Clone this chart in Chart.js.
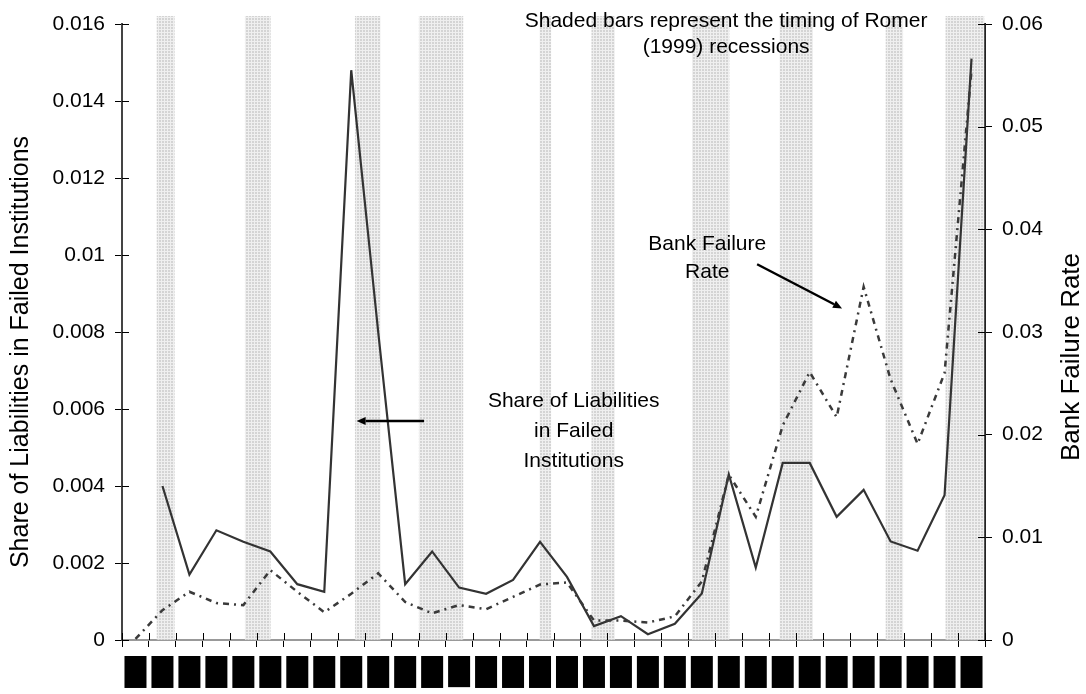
<!DOCTYPE html>
<html>
<head>
<meta charset="utf-8">
<title>Bank failures and Romer recessions</title>
<script src="https://cdn.jsdelivr.net/npm/chart.js@4.4.1/dist/chart.umd.min.js"></script>
<style>
  html, body { margin: 0; padding: 0; background: #fff; }
  #wrap { width: 1086px; height: 694px; position: relative; }
</style>
</head>
<body>
<div id="wrap"><canvas id="chart"></canvas></div>
<script>
const FONT = "'Liberation Sans', Arial, sans-serif";

const years = ['1899', '1900', '1901', '1902', '1903', '1904', '1905', '1906', '1907', '1908',
  '1909', '1910', '1911', '1912', '1913', '1914', '1915', '1916', '1917', '1918',
  '1919', '1920', '1921', '1922', '1923', '1924', '1925', '1926', '1927', '1928',
  '1929', '1930'];

// share of liabilities in failed institutions (left axis)
const shareLiab = [null, 0.0040, 0.0017, 0.00285, 0.00255, 0.0023, 0.00145, 0.00125, 0.0148, 0.0080,
  0.00145, 0.0023, 0.00136, 0.0012, 0.00156, 0.00255, 0.00164, 0.00036, 0.00062, 0.00015,
  0.00042, 0.00121, 0.0043, 0.00188, 0.0046, 0.0046, 0.0032, 0.0039, 0.00256, 0.00232,
  0.00376, 0.0151];

// bank failure rate (right axis)
const failRate = [0.0001, 0.0029, 0.0047, 0.0036, 0.0034, 0.0068, 0.0047, 0.0027, 0.0045, 0.0065,
  0.0037, 0.0026, 0.0034, 0.0030, 0.0042, 0.0054, 0.0056, 0.0019, 0.0019, 0.0017,
  0.0023, 0.0057, 0.0161, 0.0120, 0.0209, 0.0261, 0.0217, 0.0344, 0.0254, 0.0191,
  0.0260, 0.0555];

// Romer (1999) recessions, in fractional years
const recStart = [1900.30, 1903.57, 1907.65, 1910.02, 1914.50, 1916.42, 1920.15, 1923.40, 1927.33, 1929.55];
const recEnd   = [1900.94, 1904.50, 1908.57, 1911.64, 1914.90, 1917.26, 1921.51, 1924.61, 1927.95, 1930.96];

// text notes, placed in data units (x in years, y on left axis)
const notes = [
  {lines: ['Shaded bars represent the timing of Romer', '(1999) recessions'], x: 1921.4, y: 0.01593, gap: 26},
  {lines: ['Bank Failure', 'Rate'], x: 1920.7, y: 0.01013, gap: 28},
  {lines: ['Share of Liabilities', 'in Failed', 'Institutions'], x: 1915.75, y: 0.00606, gap: 30}
];
const arrows = [
  {x1: 1910.2, y1: 0.00569, x2: 1907.7, y2: 0.00569, axis: 'y'},
  {x1: 1922.55, y1: 0.0366, x2: 1925.7, y2: 0.0323, axis: 'y2'}
];

// dotted grey fill for the recession bands
function makePattern() {
  const c = document.createElement('canvas');
  c.width = 3; c.height = 3;
  const g = c.getContext('2d');
  g.fillStyle = '#d4d4d4';
  g.fillRect(0, 0, 3, 3);
  g.fillStyle = '#efefef';
  g.fillRect(0, 2, 3, 1);
  g.fillRect(2, 0, 1, 3);
  return g.createPattern(c, 'repeat');
}

const fmt = v => String(parseFloat(Number(v).toFixed(4)));

// ticks that cross the axis lines
const crossTicks = {
  id: 'crossTicks',
  afterDraw(chart) {
    const {ctx, chartArea: a, scales: s} = chart;
    const al = p => Math.round(p) + 0.5;
    ctx.save();
    ctx.strokeStyle = '#000';
    ctx.lineWidth = 1;
    ctx.beginPath();
    s.y.ticks.forEach((t, i) => { const p = al(s.y.getPixelForTick(i)); ctx.moveTo(a.left, p); ctx.lineTo(a.left + 7, p); });
    s.y2.ticks.forEach((t, i) => { const p = al(s.y2.getPixelForTick(i)); ctx.moveTo(a.right, p); ctx.lineTo(a.right - 7, p); });
    for (let i = 0; i <= years.length; i++) {
      const p = al(s.x.getPixelForValue(i - 0.5));
      ctx.moveTo(p, a.bottom); ctx.lineTo(p, a.bottom - 7);
    }
    ctx.stroke();
    ctx.restore();
  }
};

const notesPlugin = {
  id: 'notes',
  afterDraw(chart) {
    const {ctx, chartArea: a, scales: s} = chart;
    ctx.save();
    ctx.fillStyle = '#000';
    ctx.font = '21px ' + FONT;
    ctx.textAlign = 'center';
    ctx.textBaseline = 'alphabetic';
    notes.forEach(n => {
      const px = s.xt.getPixelForValue(n.x), py = s.y.getPixelForValue(n.y);
      n.lines.forEach((t, i) => ctx.fillText(t, px, py + i * n.gap));
    });

    ctx.strokeStyle = '#000';
    ctx.lineWidth = 2.5;
    arrows.forEach(r => {
      const x1 = s.xt.getPixelForValue(r.x1), y1 = s[r.axis].getPixelForValue(r.y1);
      const x2 = s.xt.getPixelForValue(r.x2), y2 = s[r.axis].getPixelForValue(r.y2);
      const ang = Math.atan2(y2 - y1, x2 - x1);
      const hl = 9, hw = 4;
      const bx = x2 - hl * Math.cos(ang), by = y2 - hl * Math.sin(ang);
      ctx.beginPath();
      ctx.moveTo(x1, y1);
      ctx.lineTo(bx, by);
      ctx.stroke();
      ctx.beginPath();
      ctx.moveTo(x2, y2);
      ctx.lineTo(bx + hw * Math.sin(ang), by - hw * Math.cos(ang));
      ctx.lineTo(bx - hw * Math.sin(ang), by + hw * Math.cos(ang));
      ctx.closePath();
      ctx.fill();
    });

    // axis titles, both reading bottom to top
    const midY = (a.top + a.bottom) / 2 + 20;
    ctx.textBaseline = 'middle';
    ctx.font = '25px ' + FONT;
    ctx.save();
    ctx.translate(s.y.left + 21, midY);
    ctx.rotate(-Math.PI / 2);
    ctx.fillText('Share of Liabilities in Failed Institutions', 0, 0);
    ctx.restore();
    ctx.font = '26px ' + FONT;
    ctx.save();
    ctx.translate(s.y2.right - 14, midY + 5);
    ctx.rotate(-Math.PI / 2);
    ctx.fillText('Bank Failure Rate', 0, 0);
    ctx.restore();
    ctx.restore();
  }
};

const ctx = document.getElementById('chart');
// each band is a horizontal floating bar spanning the recession's years
const bands = recStart.map((st, i) => ({x: [st, recEnd[i]], y: 0.5073}));

new Chart(ctx, {
  type: 'line',
  data: {
    labels: years,
    datasets: [
      {
        type: 'bar',
        label: 'Romer recessions',
        data: bands,
        indexAxis: 'y',
        xAxisID: 'xt',
        yAxisID: 'yb',
        backgroundColor: makePattern(),
        borderWidth: 0,
        borderSkipped: false,
        grouped: false,
        barThickness: 623,
        clip: false,
        order: 10
      },
      {
        label: 'Share of Liabilities in Failed Institutions',
        data: shareLiab,
        xAxisID: 'x',
        yAxisID: 'y',
        borderColor: '#333',
        borderWidth: 2.2,
        pointRadius: 0,
        tension: 0,
        fill: false,
        order: 1
      },
      {
        label: 'Bank Failure Rate',
        data: failRate,
        xAxisID: 'x',
        yAxisID: 'y2',
        borderColor: '#3a3a3a',
        borderWidth: 2.5,
        borderDash: [6, 5, 2, 5],
        pointRadius: 0,
        tension: 0,
        fill: false,
        order: 0
      }
    ]
  },
  options: {
    responsive: true,
    maintainAspectRatio: false,
    animation: false,
    events: [],
    layout: { padding: { top: 24, left: 0, right: 0, bottom: 0 } },
    plugins: {
      legend: { display: false },
      tooltip: { enabled: false }
    },
    scales: {
      x: {
        type: 'category',
        position: 'bottom',
        offset: true,
        grid: { offset: true, drawOnChartArea: false, tickLength: 7, color: '#000' },
        border: { color: '#999', width: 2 },
        ticks: {
          autoSkip: false,
          minRotation: 90,
          maxRotation: 90,
          padding: 12,
          color: '#000',
          font: { family: FONT, size: 11 },
          showLabelBackdrop: true,
          backdropColor: '#000',
          backdropPadding: { top: 11, bottom: -2.2, left: 4.5, right: 3 }
        },
        afterFit(scale) { scale.height = 54; }
      },
      xt: {
        type: 'linear',
        axis: 'x',
        position: 'bottom',
        display: false,
        min: 1899,
        max: 1931
      },
      yb: {
        type: 'linear',
        axis: 'y',
        position: 'left',
        display: false,
        min: 0,
        max: 1
      },
      y: {
        type: 'linear',
        position: 'left',
        min: 0,
        max: 0.016,
        grid: { drawOnChartArea: false, tickLength: 7, color: '#000' },
        border: { color: '#444', width: 2 },
        ticks: {
          stepSize: 0.002,
          padding: 10,
          color: '#000',
          font: { family: FONT, size: 21 },
          callback: fmt
        },
        afterFit(scale) { scale.width = 122; }
      },
      y2: {
        type: 'linear',
        position: 'right',
        min: 0,
        max: 0.06,
        grid: { drawOnChartArea: false, tickLength: 7, color: '#000' },
        border: { color: '#222', width: 2 },
        ticks: {
          stepSize: 0.01,
          padding: 10,
          color: '#000',
          font: { family: FONT, size: 21 },
          callback: fmt
        },
        afterFit(scale) { scale.width = 101; }
      }
    }
  },
  plugins: [crossTicks, notesPlugin]
});
</script>
</body>
</html>
